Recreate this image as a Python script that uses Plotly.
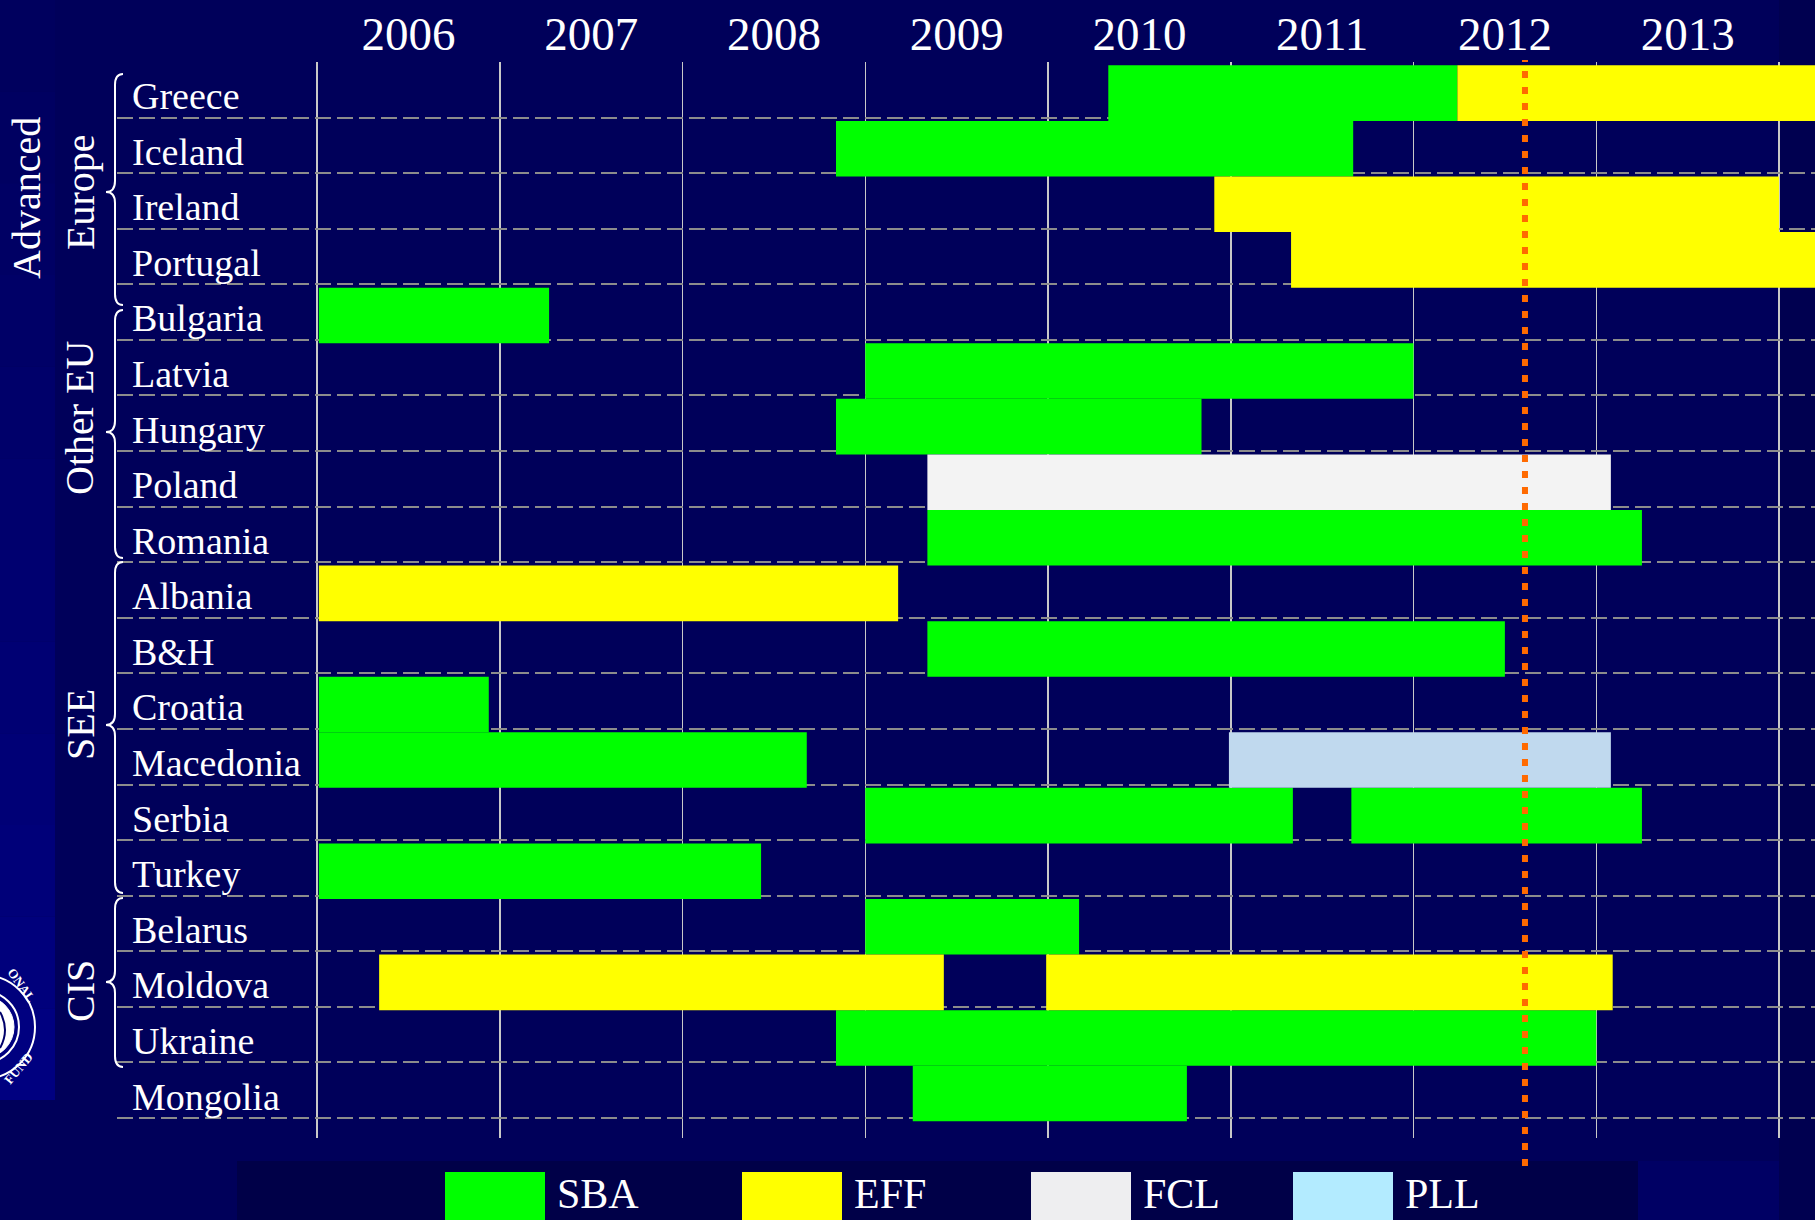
import plotly.graph_objects as go

# ---------------- data ----------------
countries = ["Greece", "Iceland", "Ireland", "Portugal", "Bulgaria", "Latvia", "Hungary",
             "Poland", "Romania", "Albania", "B&H", "Croatia", "Macedonia", "Serbia",
             "Turkey", "Belarus", "Moldova", "Ukraine", "Mongolia"]
years = [2006, 2007, 2008, 2009, 2010, 2011, 2012, 2013]

# arrangements: country, start (fractional year), end (fractional year)
sba_country = ["Greece", "Iceland", "Bulgaria", "Latvia", "Hungary", "Romania", "B&H",
               "Croatia", "Macedonia", "Serbia", "Serbia", "Turkey", "Belarus", "Ukraine",
               "Mongolia"]
sba_start = [2010.33, 2008.84, 2006.01, 2009.00, 2008.84, 2009.34, 2009.34,
             2006.01, 2006.01, 2009.00, 2011.66, 2006.01, 2009.00, 2008.84, 2009.26]
sba_end = [2012.24, 2011.67, 2007.27, 2012.00, 2010.84, 2013.25, 2012.50,
           2006.94, 2008.68, 2011.34, 2013.25, 2008.43, 2010.17, 2013.00, 2010.76]

eff_country = ["Greece", "Ireland", "Portugal", "Albania", "Moldova", "Moldova"]
eff_start = [2012.24, 2010.91, 2011.33, 2006.01, 2006.34, 2009.99]
eff_end = [2016.20, 2014.00, 2014.45, 2009.18, 2009.43, 2013.09]

fcl_country = ["Poland"]
fcl_start = [2009.34]
fcl_end = [2013.08]

pll_country = ["Macedonia"]
pll_start = [2010.99]
pll_end = [2013.08]

groups = ["Advanced", "Europe", "Other EU", "SEE", "CIS"]
today = 2012.61

programs = ["SBA", "EFF", "FCL", "PLL"]
bar_colors = ["#00FF00", "#FFFF00", "#F3F3F3", "#C0D9EE"]
legend_colors = ["#00FF00", "#FFFF00", "#EEEEF0", "#B3EBFF"]

# ---------------- layout geometry (pixels) ----------------
W, H = 1815, 1220
L, R, T, B = 117, 1815, 62, 1138
FONT = "Liberation Serif"
BG = "#00005A"


def px(xp):
    return (xp - L) / (R - L)


def py(yp):
    return (B - yp) / (B - T)


fig = go.Figure()

series = [
    (sba_country, sba_start, sba_end),
    (eff_country, eff_start, eff_end),
    (fcl_country, fcl_start, fcl_end),
    (pll_country, pll_start, pll_end),
]
for name, color, (cs, ss, es) in zip(programs, bar_colors, series):
    fig.add_trace(go.Bar(
        orientation="h",
        y=[countries.index(c) for c in cs],
        base=ss,
        x=[e - s for s, e in zip(ss, es)],
        width=1.0,
        offset=-0.44,
        marker=dict(color=color, line=dict(width=0)),
        name=name,
        showlegend=False,
        hoverinfo="skip",
    ))

shapes = []
annotations = []

# left light-blue strip (gradient)
n = 12
for i in range(n):
    y0p = 1100 * i / n
    y1p = 1100 * (i + 1) / n
    c = int(94 + (128 - 94) * i / (n - 1))
    shapes.append(dict(type="rect", xref="paper", yref="paper",
                       x0=px(0), x1=px(55), y0=py(y1p), y1=py(y0p),
                       fillcolor="rgb(0,0,%d)" % c, line=dict(width=0), layer="below"))
# right darker strip
shapes.append(dict(type="rect", xref="paper", yref="paper",
                   x0=px(1779), x1=px(1815), y0=py(1220), y1=py(0),
                   fillcolor="#000050", line=dict(width=0), layer="below"))
# bottom-right lighter patch
shapes.append(dict(type="rect", xref="paper", yref="paper",
                   x0=px(1638), x1=px(1779), y0=py(1220), y1=py(1161),
                   fillcolor="#000064", line=dict(width=0), layer="below"))
# legend box
shapes.append(dict(type="rect", xref="paper", yref="paper",
                   x0=px(237), x1=px(1638), y0=py(1220), y1=py(1161),
                   fillcolor="#000048", line=dict(width=0), layer="below"))

# IMF seal (rough, partly outside the left edge)
cx, cy = -17, 1027
for r, fill, lw in [(52, None, 2), (36, None, 2), (31, "white", 1)]:
    d = dict(type="circle", xref="paper", yref="paper",
             x0=px(cx - r), x1=px(cx + r), y0=py(cy + r), y1=py(cy - r),
             line=dict(color="white", width=lw), layer="below")
    if fill:
        d["fillcolor"] = fill
    shapes.append(d)
shapes.append(dict(type="path", xref="paper", yref="paper", layer="below",
                   path="M %.5f,%.5f Q %.5f,%.5f %.5f,%.5f" % (
                       px(0), py(1012), px(10), py(1030), px(0), py(1048)),
                   line=dict(color="#00006A", width=2)))
for txt, ax, ay, ang in [("ONAL", 22, 985, 55), ("FUND", 18, 1068, -50)]:
    annotations.append(dict(xref="paper", yref="paper", x=px(ax), y=py(ay),
                            xanchor="center", yanchor="middle", showarrow=False,
                            text="<b>%s</b>" % txt, textangle=ang,
                            font=dict(family=FONT, size=13, color="white")))


# braces
def brace(yt, ytip, yb, xe=123, xs=115, xt=106, r=11):
    pts = [
        ("M", [(xe, yt)]),
        ("Q", [(xs, yt), (xs, yt + r)]),
        ("L", [(xs, ytip - r)]),
        ("Q", [(xs, ytip), (xt, ytip)]),
        ("Q", [(xs, ytip), (xs, ytip + r)]),
        ("L", [(xs, yb - r)]),
        ("Q", [(xs, yb), (xe, yb)]),
    ]
    s = ""
    for cmd, ps in pts:
        s += cmd + " " + " ".join("%.5f,%.5f" % (px(a), py(b)) for a, b in ps) + " "
    return s.strip()


for yt, ytip, yb in [(74, 192, 305), (310, 432, 558), (562, 725, 893), (898, 982, 1067)]:
    shapes.append(dict(type="path", xref="paper", yref="paper", path=brace(yt, ytip, yb),
                       line=dict(color="white", width=2)))

# today line
shapes.append(dict(type="line", xref="x", yref="paper", x0=today, x1=today,
                   y0=py(1166), y1=py(60),
                   line=dict(color="#FF6A00", width=6, dash="7px,9px")))

# legend swatches
sw_x = [445, 742, 1031, 1293]
for name, col, x0 in zip(programs, legend_colors, sw_x):
    shapes.append(dict(type="rect", xref="paper", yref="paper",
                       x0=px(x0), x1=px(x0 + 100), y0=py(1224), y1=py(1172),
                       fillcolor=col, line=dict(width=0)))
    annotations.append(dict(xref="paper", yref="paper", x=px(x0 + 110), y=py(1194),
                            xanchor="left", yanchor="middle", showarrow=False, text=name,
                            font=dict(family=FONT, size=42, color="white")))

# group labels
for text, xg, yg in zip(groups, [27, 80, 80, 80, 80], [198, 192, 418, 725, 991]):
    annotations.append(dict(xref="paper", yref="paper", x=px(xg), y=py(yg),
                            xanchor="center", yanchor="middle", showarrow=False,
                            text=text, textangle=-90,
                            font=dict(family=FONT, size=40, color="white")))

fig.update_layout(
    width=W, height=H,
    margin=dict(l=L, r=W - R, t=T, b=H - B),
    paper_bgcolor=BG,
    plot_bgcolor="rgba(0,0,0,0)",
    barmode="overlay",
    shapes=shapes,
    annotations=annotations,
    showlegend=False,
    xaxis=dict(
        range=[2006 - (317 - L) / 182.75, 2006 + (R - 317) / 182.75],
        side="top",
        tickmode="array",
        tickvals=[y + 0.5 for y in years],
        ticktext=[str(y) for y in years],
        tickfont=dict(family=FONT, size=47, color="white"),
        ticks="",
        ticklabelstandoff=2,
        showgrid=False,
        zeroline=False,
        showline=False,
        minor=dict(tickmode="array", tickvals=list(range(2006, 2015)), showgrid=True,
                   gridcolor="#C8C8C8", gridwidth=1.5, ticks=""),
        fixedrange=True,
    ),
    yaxis=dict(
        range=[-0.5 + (B - T) / 55.58, -0.5],
        tickmode="array",
        tickvals=list(range(len(countries))),
        ticktext=countries,
        ticklabelposition="inside",
        ticklabelstandoff=12,
        ticklabelshift=-6,
        tickfont=dict(family=FONT, size=38, color="white"),
        ticks="",
        showgrid=False,
        zeroline=False,
        showline=False,
        minor=dict(tickmode="array", tickvals=[i + 0.5 for i in range(len(countries))],
                   showgrid=True, gridcolor="#8C8C8C", gridwidth=2, griddash="16px,6px",
                   ticks=""),
        fixedrange=True,
    ),
)

fig.write_html(
    "out.html",
    config={"displayModeBar": False, "staticPlot": True},
    post_script="document.body.style.margin='0px';document.body.style.overflow='hidden';"
                "document.body.style.backgroundColor='#00005A';",
)
